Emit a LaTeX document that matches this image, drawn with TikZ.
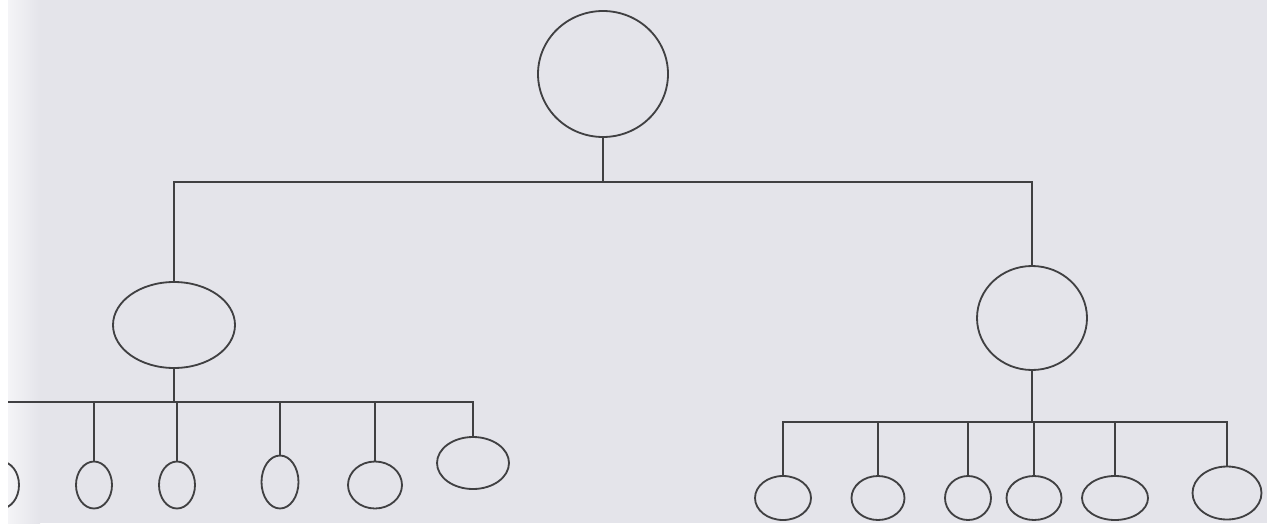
\documentclass[tikz,border=0pt]{standalone}
\usetikzlibrary{shapes.geometric}
\definecolor{paper}{RGB}{228,228,234}
\definecolor{ink}{RGB}{64,64,66}
\begin{document}
\begin{tikzpicture}[x=0.05cm,y=-0.05cm,
  oval/.style={draw=ink,line width=2.6pt,ellipse,inner sep=0pt},
  link/.style={draw=ink,line width=2.6pt}]
\useasboundingbox (0,0) rectangle (1267,523);
\fill[paper] (0,0) rectangle (1267,523);
\shade[left color=white!60!paper,right color=paper] (8,0) rectangle (40,523);
% nodes
\node[oval,minimum width=6.5cm,minimum height=6.3cm] (top) at (603,74) {};
\node[oval,minimum width=6.1cm,minimum height=4.3cm] (L) at (174,325) {};
\node[oval,minimum width=5.5cm,minimum height=5.2cm] (R) at (1032,318) {};
% left children
\node[oval,minimum width=1.8cm,minimum height=2.35cm] (L0) at (1,485) {};
\node[oval,minimum width=1.8cm,minimum height=2.35cm] (L1) at (94,485) {};
\node[oval,minimum width=1.8cm,minimum height=2.35cm] (L2) at (177,485) {};
\node[oval,minimum width=1.85cm,minimum height=2.65cm] (L3) at (280,482) {};
\node[oval,minimum width=2.7cm,minimum height=2.35cm] (L4) at (375,485) {};
\node[oval,minimum width=3.6cm,minimum height=2.6cm] (L5) at (473,463) {};
% right children
\node[oval,minimum width=2.8cm,minimum height=2.2cm] (R1) at (783,498) {};
\node[oval,minimum width=2.65cm,minimum height=2.2cm] (R2) at (878,498) {};
\node[oval,minimum width=2.3cm,minimum height=2.2cm] (R3) at (968,498) {};
\node[oval,minimum width=2.75cm,minimum height=2.2cm] (R4) at (1034,498) {};
\node[oval,minimum width=3.3cm,minimum height=2.2cm] (R5) at (1115,498) {};
\node[oval,minimum width=3.45cm,minimum height=2.65cm] (R6) at (1227,493) {};
% bar coordinates
\coordinate (tb) at (0,182);
\coordinate (lb) at (0,402);
\coordinate (rb) at (0,422);
\coordinate (lbL) at (8,402);
% top level connectors
\draw[link] (top.south) -- (top.south |- tb);
\draw[link] (L.north) -- (L.north |- tb) -- (R.north |- tb) -- (R.north);
% left subtree
\draw[link] (L.south) -- (L.south |- lb);
\draw[link] (lbL) -- (L5.north |- lb) -- (L5.north);
\foreach \n in {L1,L2,L3,L4}{\draw[link] (\n.north) -- (\n.north |- lb);}
% right subtree
\draw[link] (R.south) -- (R.south |- rb);
\draw[link] (R1.north) -- (R1.north |- rb) -- (R6.north |- rb) -- (R6.north);
\foreach \n in {R2,R3,R4,R5}{\draw[link] (\n.north) -- (\n.north |- rb);}
% white strip at left edge hides the cut-off part
\fill[white] (0,0) rectangle (8,523);
\end{tikzpicture}
\end{document}
